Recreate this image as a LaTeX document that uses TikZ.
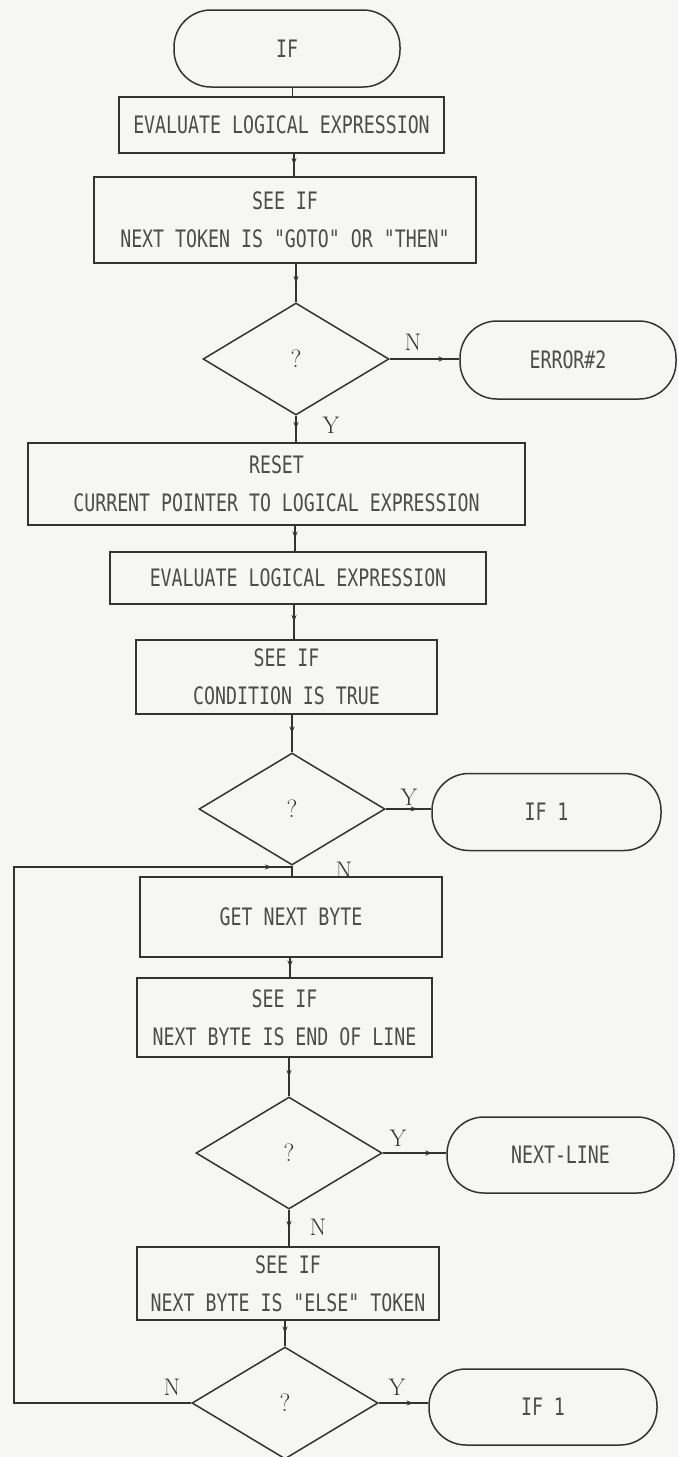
\documentclass[tikz,border=0pt]{standalone}
\usepackage{fontspec}
\usetikzlibrary{shapes.geometric,arrows.meta,decorations.markings}
\newfontfamily\dotfont[FakeStretch=0.76]{DejaVu Sans Mono}
\definecolor{bg}{rgb}{0.965,0.965,0.955}
\definecolor{ink}{rgb}{0.2,0.2,0.2}
\definecolor{txt}{rgb}{0.3,0.3,0.3}
\tikzset{
  boxtxt/.style={font=\dotfont\fontsize{24}{38}\selectfont, text=txt},
  stepbox/.style={draw=ink, line width=1.5pt, rectangle, inner sep=0pt, align=center, boxtxt},
  termbox/.style={draw=ink, line width=1.5pt, rectangle, rounded corners=37pt, inner sep=0pt, boxtxt},
  decbox/.style={draw=ink, line width=1.5pt, diamond, inner sep=0pt, minimum width=186pt, minimum height=112pt, font=\fontsize{25}{25}\selectfont, text=ink},
  yn/.style={font=\fontsize{24}{24}\selectfont, text=ink, inner sep=0pt},
  conn/.style={draw=ink, line width=1.5pt},
  midarrow/.style={postaction={decorate}, decoration={markings, mark=at position #1 with {\arrow{Stealth[length=7pt,width=5pt]}}}},
  midarrow/.default=0.5
}
\begin{document}
\begin{tikzpicture}[x=1pt,y=-1pt]
\fill[bg] (0,0) rectangle (678,1457);
\useasboundingbox (0,0) rectangle (678,1457);

% terminators
\node[termbox, minimum width=226pt, minimum height=77pt] (start) at (287,48.5) {IF};
\node[termbox, minimum width=216pt, minimum height=78pt] (err) at (568,360) {ERROR\#2};
\node[termbox, minimum width=229pt, minimum height=77pt] (ifa) at (546.5,812) {IF 1};
\node[termbox, minimum width=227pt, minimum height=76pt] (nextline) at (560.5,1155) {NEXT-LINE};
\node[termbox, minimum width=228pt, minimum height=76pt] (ifb) at (543,1407) {IF 1};

% process boxes
\node[stepbox, minimum width=325pt, minimum height=56pt] (b1) at (281.5,125) {EVALUATE LOGICAL EXPRESSION};
\node[stepbox, minimum width=382pt, minimum height=86pt] (b2) at (285,220) {SEE IF\\NEXT TOKEN IS "GOTO" OR "THEN"};
\node[stepbox, minimum width=497pt, minimum height=82pt] (b3) at (276.5,484) {RESET\\CURRENT POINTER TO LOGICAL EXPRESSION};
\node[stepbox, minimum width=376pt, minimum height=52pt] (b4) at (298,578) {EVALUATE LOGICAL EXPRESSION};
\node[stepbox, minimum width=301pt, minimum height=74pt] (b5) at (286.5,677) {SEE IF\\CONDITION IS TRUE};
\node[stepbox, minimum width=302pt, minimum height=80pt] (b6) at (291,917) {GET NEXT BYTE};
\node[stepbox, minimum width=295pt, minimum height=79pt] (b7) at (284.5,1017.5) {SEE IF\\NEXT BYTE IS END OF LINE};
\node[stepbox, minimum width=302pt, minimum height=73pt] (b8) at (288,1283.5) {SEE IF\\NEXT BYTE IS "ELSE" TOKEN};

% decisions
\node[decbox] (d1) at (296,359) {?};
\node[decbox] (d2) at (292,809) {?};
\node[decbox] (d3) at (289,1153) {?};
\node[decbox] (d4) at (285,1403) {?};

% labels
\node[yn] (l1n) at (413,342) {N};
\node[yn] (l1y) at (331,425) {Y};
\node[yn] (l2y) at (409,797) {Y};
\node[yn] (l2n) at (344,870) {N};
\node[yn] (l3y) at (398,1138) {Y};
\node[yn] (l3n) at (318,1227) {N};
\node[yn] (l4n) at (172,1387) {N};
\node[yn] (l4y) at (397,1387) {Y};

% helper coordinates
\coordinate (lx) at (14,0);
\coordinate (join) at (292,867);

% connectors
\draw[conn] (start.south -| b1.north) ++(11,0) coordinate (s1) -- (s1 |- b1.north);
\draw[conn, midarrow] (b1.south -| d1.north) ++(-2,0) coordinate (s2) -- (s2 |- b2.north);
\draw[conn, midarrow] (b2.south -| d1.north) -- (d1.north);
\draw[conn, midarrow=0.8] (d1.east) -- (d1.east -| err.west);
\draw[conn, midarrow] (d1.south) -- (d1.south |- b3.north);
\draw[conn, midarrow] (b3.south -| d1.south) ++(-1,0) coordinate (s3) -- (s3 |- b4.north);
\draw[conn, midarrow] (b4.south -| d2.north) ++(2,0) coordinate (s4) -- (s4 |- b5.north);
\draw[conn, midarrow] (b5.south -| d2.north) -- (d2.north);
\draw[conn, midarrow=0.7] (d2.east) -- (d2.east -| ifa.west);
\draw[conn] (d2.south) -- (d2.south |- b6.north);
\draw[conn, midarrow] (b6.south -| d3.north) ++(1,0) coordinate (s5) -- (s5 |- b7.north);
\draw[conn, midarrow] (b7.south -| d3.north) -- (d3.north);
\draw[conn, midarrow=0.78] (d3.east) -- (d3.east -| nextline.west);
\draw[conn, midarrow] (d3.south) -- (d3.south |- b8.north);
\draw[conn, midarrow] (b8.south -| d4.north) -- (d4.north);
\draw[conn, midarrow=0.7] (d4.east) -- (d4.east -| ifb.west);
\draw[conn, postaction={decorate}, decoration={markings, mark=at position -20pt with {\arrow{Stealth[length=7pt,width=5pt]}}}]
  (d4.west) -- (lx |- d4.west) -- (lx |- join) -- (join);
\end{tikzpicture}
\end{document}
